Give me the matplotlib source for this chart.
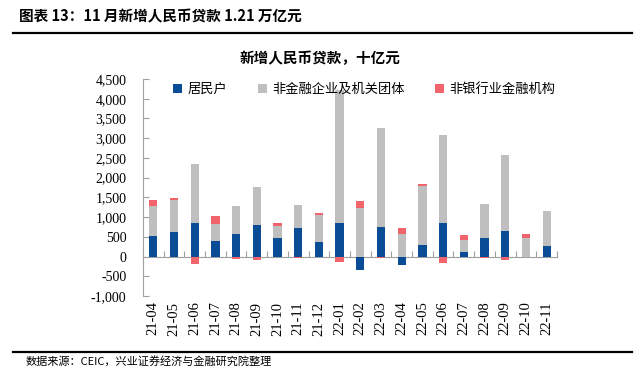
import numpy as np
import matplotlib
matplotlib.use('Agg')
import matplotlib.pyplot as plt
from matplotlib.ticker import FuncFormatter

# data, 十亿元
months = ['21-04', '21-05', '21-06', '21-07', '21-08', '21-09', '21-10', '21-11', '21-12', '22-01',
          '22-02', '22-03', '22-04', '22-05', '22-06', '22-07', '22-08', '22-09', '22-10', '22-11']
household = [525, 625, 858, 400, 583, 792, 458, 733, 375, 842,
             -333, 750, -208, 292, 842, 125, 458, 650, -10, 258]
corporate = [760, 800, 1500, 433, 692, 966, 317, 567, 667, 3390,
             1233, 2510, 583, 1508, 2240, 292, 867, 1913, 467, 884]
nonbank = [140, 58, -183, 192, -58, -83, 67, -33, 50, -133,
           175, -33, 134, 50, -158, 141, -33, -83, 108, 0]

series = [('居民户', household, '#0B4C97'),
          ('非金融企业及机关团体', corporate, '#BFBFBF'),
          ('非银行业金融机构', nonbank, '#F2646C')]

serif = ['Liberation Serif', 'Noto Sans CJK SC']
cjk = ['Noto Sans CJK SC', 'Liberation Serif']
plt.rcParams['font.family'] = serif

fig = plt.figure(figsize=(6.4, 3.69), dpi=100)
ax = fig.add_axes([0.2234, 0.1978, 0.6469, 0.5881])

x = np.arange(len(months))
pos_base = np.zeros(len(months))
neg_base = np.zeros(len(months))
for name, vals, color in series:
    v = np.array(vals, dtype=float)
    bottom = np.where(v >= 0, pos_base, neg_base)
    ax.bar(x, v, 0.4, bottom=bottom, color=color, label=name, zorder=2)
    pos_base += np.where(v >= 0, v, 0)
    neg_base += np.where(v < 0, v, 0)

ax.set_xlim(-0.5, len(months) - 0.5)
ax.set_ylim(-1000, 4500)
ax.set_yticks(np.arange(-1000, 4501, 500))
ax.yaxis.set_major_formatter(FuncFormatter(lambda v, p: f'{int(v):,}'))
ax.tick_params(axis='y', direction='in', length=4, color='#A0A0A0', labelsize=10, pad=12)

ax.set_xticks(x)
ax.set_xticklabels(months, rotation=90, fontsize=10.5)
ax.tick_params(axis='x', length=0, pad=4)

for s in ['top', 'right', 'bottom']:
    ax.spines[s].set_visible(False)
ax.spines['left'].set_color('#A0A0A0')

# zero axis with tick marks between categories
zero = ax.secondary_xaxis(1000 / 5500)
zero.set_xticks(np.arange(-0.5, len(months), 1))
zero.tick_params(direction='in', length=4, color='#A0A0A0', labelbottom=False, labeltop=False)
zero.spines['bottom'].set_color('#A0A0A0')
zero.spines['top'].set_visible(False)
zero.set_xticklabels([])

leg = ax.legend(loc='upper center', bbox_to_anchor=(0.535, 1.035), ncol=3, frameon=False,
                handlelength=0.7, handleheight=0.7, handletextpad=0.4, columnspacing=2.3,
                prop={'family': cjk, 'size': 9.5})

fig.text(0.5, 0.843, '新增人民币贷款，十亿元', ha='center', va='center',
         fontsize=10.5, fontweight='bold', family=cjk)
fig.text(0.03, 0.955, '图表 13：11 月新增人民币贷款 1.21 万亿元', ha='left', va='center',
         fontsize=10.5, fontweight='bold', family=cjk)
fig.add_artist(plt.Line2D([0.02, 0.988], [0.91, 0.91], color='black', lw=1.6))
fig.add_artist(plt.Line2D([0.02, 0.988], [0.047, 0.047], color='black', lw=1.6))
fig.text(0.04, 0.022, '数据来源：CEIC，兴业证券经济与金融研究院整理', ha='left', va='center',
         fontsize=8, family=cjk)

fig.savefig('out.png', dpi=100)
